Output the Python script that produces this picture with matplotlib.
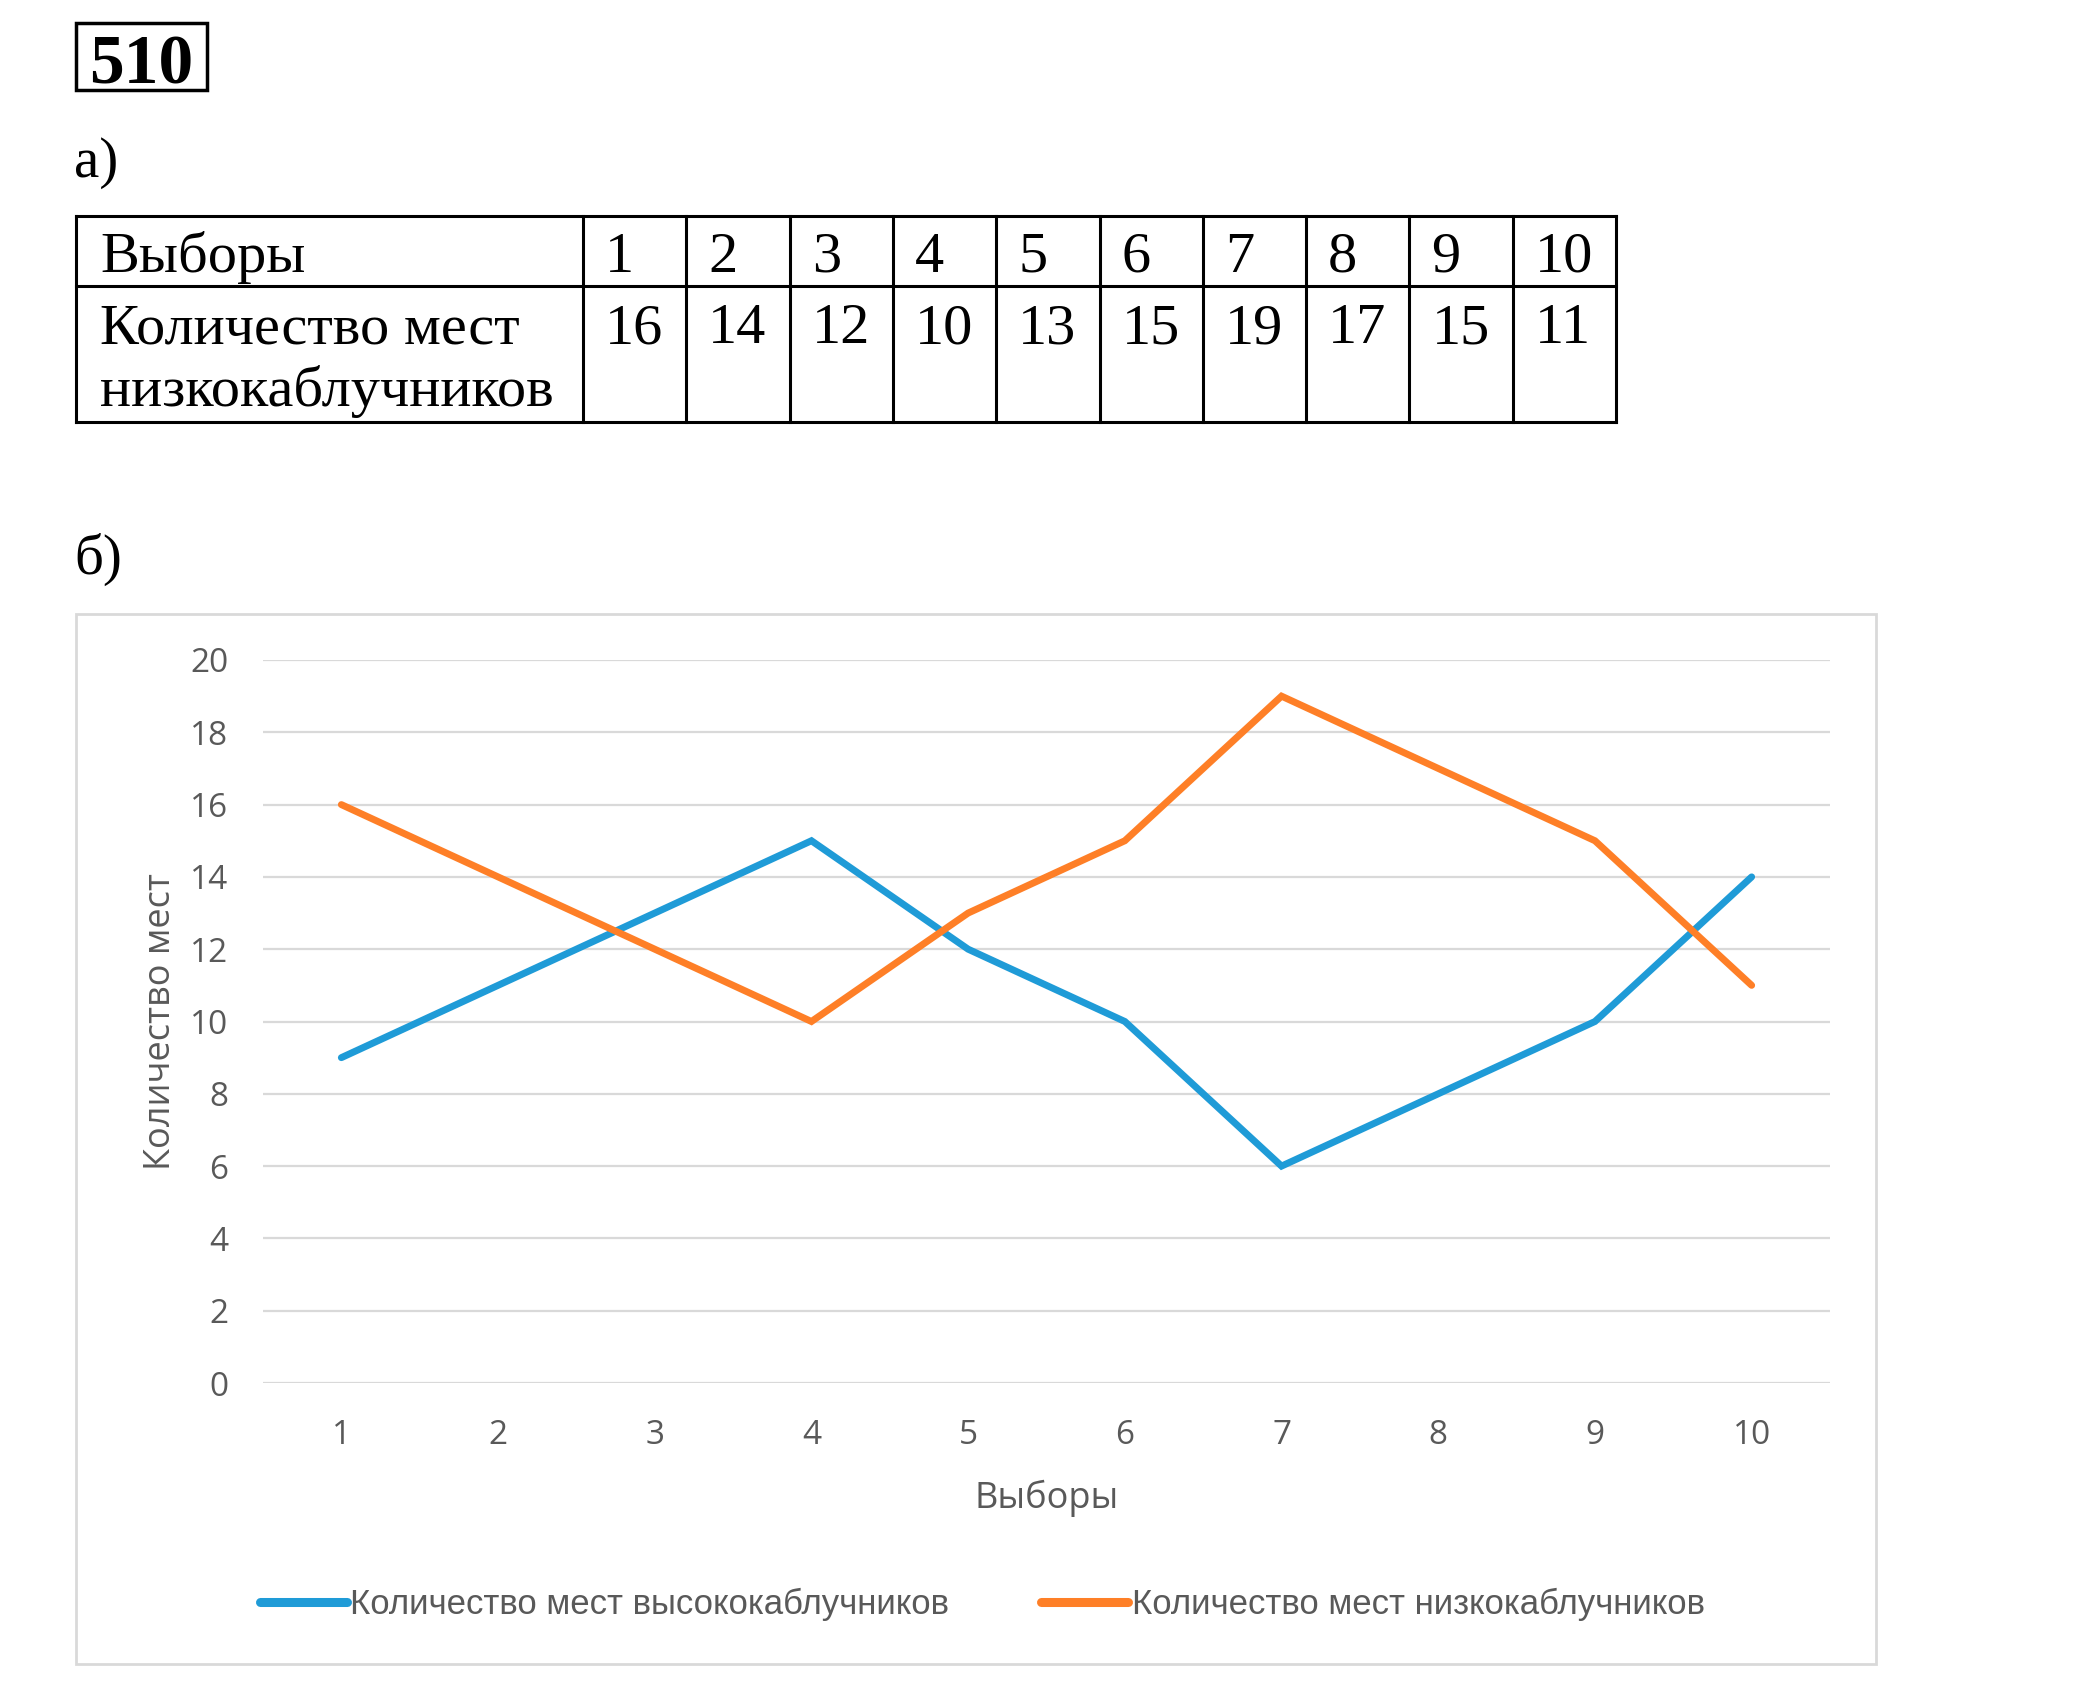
import matplotlib.pyplot as plt
from matplotlib.patches import Rectangle

# данные
vybory = [1, 2, 3, 4, 5, 6, 7, 8, 9, 10]
vysoko = [9, 11, 13, 15, 12, 10, 6, 8, 10, 14]
nizko = [16, 14, 12, 10, 13, 15, 19, 17, 15, 11]
yticks = [0, 2, 4, 6, 8, 10, 12, 14, 16, 18, 20]

W, H = 2082, 1688
fig = plt.figure(figsize=(W / 100, H / 100), dpi=100)

serif = 'Liberation Serif'
sans = ['Open Sans', 'DejaVu Sans']
grey = '#595959'

# верхняя часть: номер, таблица (пиксельные координаты)
page = fig.add_axes([0, 0, 1, 1])
page.set_xlim(0, W)
page.set_ylim(H, 0)
page.axis('off')

page.add_patch(Rectangle((76, 23), 131, 67, fill=False, lw=2.5, ec='black'))
page.text(141, 84, '510', family=serif, weight='bold', fontsize=50, ha='center', va='baseline')
page.text(74, 177, 'а)', family=serif, fontsize=41, va='baseline')
page.text(74, 574, 'б)', family=serif, fontsize=41, va='baseline')

x0, x1, xc = 76, 1616, 583
y0, y1, y2 = 216, 286, 422
cw = (x1 - xc) / len(vybory)
lw = 2.2
page.plot([x0, x1], [y0, y0], color='black', lw=lw)
page.plot([x0, x1], [y1, y1], color='black', lw=lw)
page.plot([x0, x1], [y2, y2], color='black', lw=lw)
page.plot([x0, x0], [y0, y2], color='black', lw=lw)
for i in range(len(vybory) + 1):
    page.plot([xc + i * cw] * 2, [y0, y2], color='black', lw=lw)

fs = 42
page.text(100, 272, 'Выборы', family=serif, fontsize=fs, va='baseline')
page.text(100, 343, 'Количество мест', family=serif, fontsize=fs, va='baseline')
page.text(100, 406, 'низкокаблучников', family=serif, fontsize=fs, va='baseline')
for i, (v, n) in enumerate(zip(vybory, nizko)):
    page.text(xc + i * cw + 22, 272, str(v), family=serif, fontsize=fs, va='baseline')
    page.text(xc + i * cw + 22, 343, str(n), family=serif, fontsize=fs, va='baseline')

# рамка диаграммы
page.add_patch(Rectangle((76, 614), 1800, 1050, fill=False, lw=2, ec='#d9d9d9'))

# график
ax = fig.add_axes([263 / W, 1 - 1383 / H, (1830 - 263) / W, (1383 - 660) / H])
ax.set_xlim(0.5, 10.5)
ax.set_ylim(0, 20)
ax.set_yticks(yticks)
ax.set_xticks(vybory)
ax.grid(axis='y', color='#d9d9d9', lw=1.6)
ax.set_axisbelow(True)
for s in ax.spines.values():
    s.set_visible(False)
ax.tick_params(length=0, labelsize=24, labelcolor=grey)
ax.yaxis.set_tick_params(pad=25)
ax.xaxis.set_tick_params(pad=26)
for lab in ax.get_xticklabels() + ax.get_yticklabels():
    lab.set_family(sans)

ax.plot(vybory, vysoko, color='#1f9bd7', lw=5, solid_capstyle='round', solid_joinstyle='miter',
        label='Количество мест высококаблучников')
ax.plot(vybory, nizko, color='#fe7f27', lw=5, solid_capstyle='round', solid_joinstyle='miter',
        label='Количество мест низкокаблучников')

ax.set_xlabel('Выборы', family=sans, fontsize=26, color=grey, labelpad=20)
ax.set_ylabel('Количество мест', family=sans, fontsize=26, color=grey, labelpad=8)

leg = ax.legend(loc='center', bbox_to_anchor=(0.459, -0.306), ncol=2, frameon=False,
                prop={'family': 'Liberation Sans', 'size': 25},
                labelcolor=grey, handlelength=2.5, handletextpad=0.1, columnspacing=2.65)
for h in leg.get_lines():
    h.set_linewidth(6.5)
    h.set_solid_capstyle('round')

fig.savefig('out.png', dpi=100)
